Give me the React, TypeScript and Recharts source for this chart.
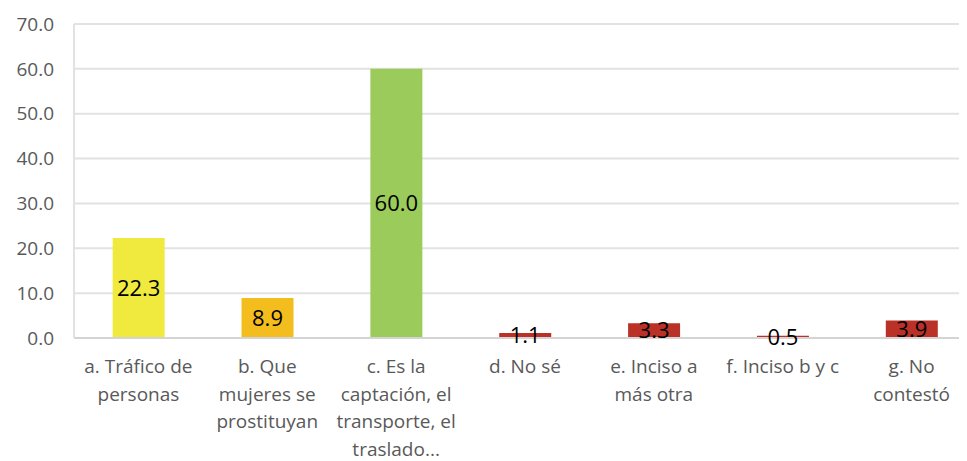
import React from "react"
import { BarChart, Bar, Cell, XAxis, YAxis, CartesianGrid, LabelList } from "recharts"

// categories, "\n" marks where the label wraps
const categories = [
  "a. Tráfico de\npersonas",
  "b. Que\nmujeres se\nprostituyan",
  "c. Es la\ncaptación, el\ntransporte, el\ntraslado...",
  "d. No sé",
  "e. Inciso a\nmás otra",
  "f. Inciso b y c",
  "g. No\ncontestó",
]

const values = [22.3, 8.9, 60.0, 1.1, 3.3, 0.5, 3.9]

const barColors = ["#F0EA3E", "#F4BD1E", "#9BCB5A", "#BA3127", "#BA3127", "#BA3127", "#BA3127"]

const yTicks = [0, 10, 20, 30, 40, 50, 60, 70]

const data = categories.map((name, i) => ({ name, value: values[i] }))

const FONT = "'Open Sans', sans-serif"
const TEXT_GRAY = "#595959"

const WrappedTick = ({ x, y, payload }: any) => {
  const lines = String(payload.value).split("\n")
  return (
    <text x={x} y={y} textAnchor="middle" fill={TEXT_GRAY} fontSize={19} fontFamily={FONT}>
      {lines.map((line, i) => (
        <tspan key={i} x={x} dy={i === 0 ? 27 : 27.5}>
          {line}
        </tspan>
      ))}
    </text>
  )
}

export default function App() {
  return (
    <div style={{ width: 959, height: 453, overflow: "hidden" }}>
      <BarChart
        width={990}
        height={453}
        data={data}
        margin={{ top: 16, right: 22, bottom: 0, left: 0 }}
        barCategoryGap="30%"
      >
        <CartesianGrid vertical={false} stroke="#E2E2E2" strokeWidth={2} />
        <XAxis
          dataKey="name"
          height={123}
          interval={0}
          tickLine={false}
          axisLine={{ stroke: "#D4D4D4", strokeWidth: 2 }}
          tick={<WrappedTick />}
        />
        <YAxis
          width={66}
          domain={[0, 70]}
          ticks={yTicks}
          tickFormatter={(v: number) => v.toFixed(1)}
          tickLine={false}
          tickMargin={14}
          axisLine={{ stroke: "#E2E2E2", strokeWidth: 2 }}
          tick={{ fill: TEXT_GRAY, fontSize: 19, fontFamily: FONT }}
        />
        <Bar dataKey="value" isAnimationActive={false}>
          {data.map((_, i) => (
            <Cell key={`cell-${i}`} fill={barColors[i]} />
          ))}
          <LabelList
            dataKey="value"
            position="center"
            formatter={(v: any) => Number(v).toFixed(1)}
            fill="#000000"
            fontSize={22}
            fontFamily={FONT}
          />
        </Bar>
      </BarChart>
    </div>
  )
}
